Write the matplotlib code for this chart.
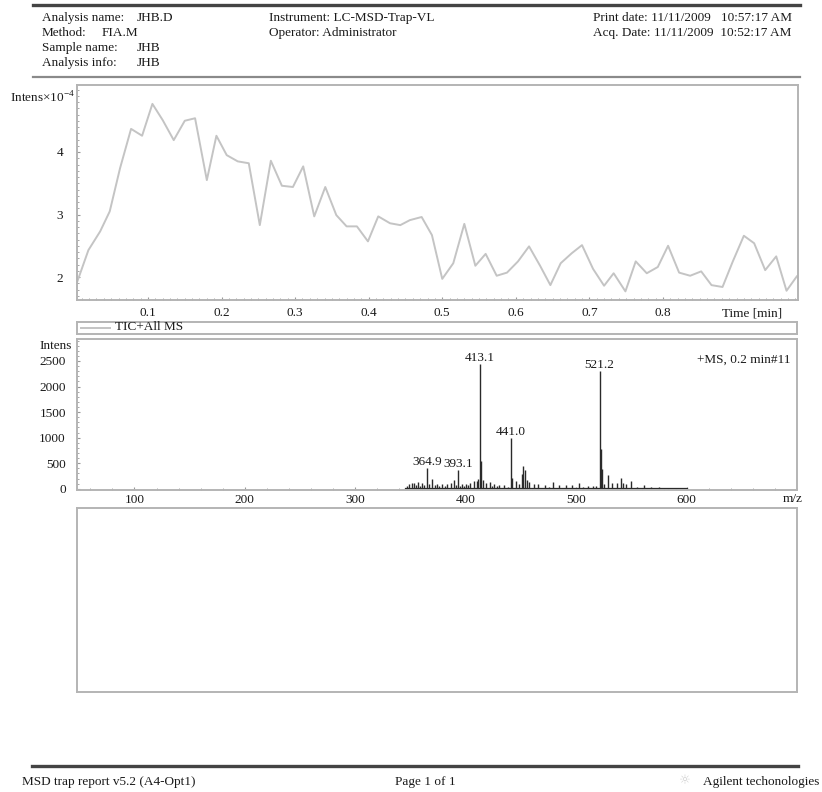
import numpy as np
import matplotlib
matplotlib.use("Agg")
import matplotlib.pyplot as plt
from matplotlib.ticker import MultipleLocator
from matplotlib.lines import Line2D

plt.rcParams['font.family'] = ['Liberation Serif', 'DejaVu Sans']
plt.rcParams['mathtext.fontset'] = 'custom'
plt.rcParams['mathtext.rm'] = 'Liberation Serif'

# TIC trace: time [min] vs intensity (x10^4)
tic_time = [0.004, 0.019, 0.035, 0.048, 0.062, 0.077, 0.092, 0.106, 0.120, 0.135,
            0.150, 0.164, 0.180, 0.193, 0.207, 0.222, 0.237, 0.252, 0.267, 0.282,
            0.297, 0.311, 0.326, 0.341, 0.356, 0.370, 0.384, 0.399, 0.413, 0.429,
            0.443, 0.456, 0.472, 0.486, 0.500, 0.515, 0.530, 0.545, 0.559, 0.574,
            0.588, 0.603, 0.618, 0.633, 0.647, 0.661, 0.676, 0.690, 0.705, 0.720,
            0.733, 0.749, 0.763, 0.778, 0.793, 0.807, 0.822, 0.837, 0.852, 0.866,
            0.881, 0.895, 0.910, 0.924, 0.939, 0.954, 0.968, 0.982]
tic_int = [1.93, 2.43, 2.73, 3.05, 3.74, 4.37, 4.26, 4.77, 4.51, 4.19,
           4.50, 4.54, 3.55, 4.26, 3.95, 3.85, 3.82, 2.83, 3.86, 3.46,
           3.44, 3.77, 2.97, 3.44, 2.99, 2.81, 2.81, 2.57, 2.97, 2.86,
           2.83, 2.91, 2.96, 2.67, 1.97, 2.22, 2.85, 2.18, 2.37, 2.02,
           2.07, 2.25, 2.49, 2.18, 1.87, 2.22, 2.38, 2.51, 2.13, 1.86,
           2.06, 1.77, 2.25, 2.06, 2.16, 2.50, 2.07, 2.02, 2.09, 1.87,
           1.84, 2.25, 2.66, 2.54, 2.11, 2.33, 1.78, 2.01]
tic_xticks = [0.1, 0.2, 0.3, 0.4, 0.5, 0.6, 0.7, 0.8]
tic_yticks = [2, 3, 4]

# MS spectrum (+MS, 0.2 min #11): m/z sticks and intensities
ms_mz = [347, 349, 351, 353, 355, 357, 359, 360.6, 362, 364.9, 367, 369.7, 372, 374.3,
         376, 378.8, 381, 383.4, 386.4, 389.4, 391, 393.1, 395, 396.8, 398.5, 400.5,
         402, 404.3, 407.2, 410.1, 411.5, 413.1, 414.1, 415.9, 418.8, 421.7, 424, 426,
         428, 430.4, 434.7, 438, 441.0, 442, 445.7, 448, 451.4, 452.3, 453.7, 455.2,
         457.2, 461.6, 465.9, 471.7, 475, 479, 484.8, 490.6, 496.4, 502.3, 506, 510.4,
         514.9, 518, 521.2, 522.2, 523.2, 525, 529.3, 532.9, 537.4, 540.3, 542.4,
         545, 549.4, 555, 561.5, 568, 575, 583, 590]
ms_int = [60, 90, 120, 110, 70, 130, 60, 105, 80, 410, 90, 195, 70, 85,
          50, 95, 60, 85, 117, 180, 70, 365, 60, 95, 50, 85,
          70, 117, 150, 150, 190, 2450, 540, 180, 117, 130, 60, 85,
          50, 65, 65, 40, 1000, 215, 150, 90, 280, 443, 364, 180,
          130, 85, 85, 65, 40, 130, 65, 65, 65, 117, 40, 50,
          50, 60, 2300, 770, 380, 90, 275, 117, 117, 210, 110,
          92, 143, 40, 78, 30, 25, 20, 15]
ms_labels = ["364.9", "393.1", "413.1", "441.0", "521.2"]
ms_label_mz = [364.9, 393.1, 413.1, 441.0, 521.2]
ms_label_int = [410, 365, 2450, 1000, 2300]
ms_xticks = [100, 200, 300, 400, 500, 600]
ms_yticks = [0, 500, 1000, 1500, 2000, 2500]

W, H = 822, 792
fig = plt.figure(figsize=(W / 100, H / 100), dpi=100)

spine_c = '#b4b4b4'
txt_c = '#1a1a1a'
fs = 9.5


def fx(px):
    return px / W


def fy(py):
    return 1 - py / H


def style_axes(ax):
    for s in ax.spines.values():
        s.set_color(spine_c)
        s.set_linewidth(1.4)
    ax.tick_params(which='both', direction='in', color='#999999', labelsize=fs,
                   labelcolor=txt_c)
    ax.tick_params(which='major', length=2)
    ax.tick_params(which='minor', length=1.5)
    ax.tick_params(top=False, right=False)


# header
fig.add_artist(Line2D([fx(33), fx(800)], [fy(5), fy(5)], color='#444444', lw=2.4))
fig.add_artist(Line2D([fx(33), fx(800)], [fy(77), fy(77)], color='#8a8a8a', lw=1.6))
hdr_rows = [18, 33, 48, 63]
fig.text(fx(42), fy(hdr_rows[0]), "Analysis name:", fontsize=fs, va='center', color=txt_c)
fig.text(fx(137), fy(hdr_rows[0]), "JHB.D", fontsize=fs, va='center', color=txt_c)
fig.text(fx(42), fy(hdr_rows[1]), "Method:", fontsize=fs, va='center', color=txt_c)
fig.text(fx(102), fy(hdr_rows[1]), "FIA.M", fontsize=fs, va='center', color=txt_c)
fig.text(fx(42), fy(hdr_rows[2]), "Sample name:", fontsize=fs, va='center', color=txt_c)
fig.text(fx(137), fy(hdr_rows[2]), "JHB", fontsize=fs, va='center', color=txt_c)
fig.text(fx(42), fy(hdr_rows[3]), "Analysis info:", fontsize=fs, va='center', color=txt_c)
fig.text(fx(137), fy(hdr_rows[3]), "JHB", fontsize=fs, va='center', color=txt_c)
fig.text(fx(269), fy(hdr_rows[0]), "Instrument: LC-MSD-Trap-VL", fontsize=fs, va='center', color=txt_c)
fig.text(fx(269), fy(hdr_rows[1]), "Operator: Administrator", fontsize=fs, va='center', color=txt_c)
fig.text(fx(593), fy(hdr_rows[0]), "Print date: 11/11/2009   10:57:17 AM", fontsize=fs, va='center', color=txt_c)
fig.text(fx(593), fy(hdr_rows[1]), "Acq. Date: 11/11/2009  10:52:17 AM", fontsize=fs, va='center', color=txt_c)

# TIC chromatogram
ax1 = fig.add_axes([fx(77), fy(300), fx(798) - fx(77), fy(85) - fy(300)])
ax1.plot(tic_time, tic_int, color='#c4c4c4', lw=1.4)
ax1.set_xlim(0.0035, 0.9836)
ax1.set_ylim(1.632, 5.072)
ax1.set_xticks(tic_xticks)
ax1.set_xticklabels([f"{v:.1f}" for v in tic_xticks])
ax1.set_yticks(tic_yticks)
ax1.xaxis.set_minor_locator(MultipleLocator(0.01))
ax1.yaxis.set_minor_locator(MultipleLocator(0.1))
style_axes(ax1)
ax1.tick_params(axis='x', pad=5)
ax1.tick_params(axis='y', pad=10)
fig.text(fx(75), fy(98), "Intens\u00d710$^{-4}$", fontsize=fs, ha='right', va='center', color=txt_c)
fig.text(fx(782), fy(313), "Time [min]", fontsize=fs, ha='right', va='center', color=txt_c)

# legend strip
axl = fig.add_axes([fx(77), fy(334), fx(797) - fx(77), fy(321.7) - fy(334)])
axl.set_xticks([])
axl.set_yticks([])
for s in axl.spines.values():
    s.set_color(spine_c)
    s.set_linewidth(1.4)
fig.add_artist(Line2D([fx(81), fx(110)], [fy(327.5), fy(327.5)], color='#c4c4c4', lw=1.4))
fig.text(fx(115), fy(327.5), "TIC+All MS", fontsize=fs, va='center', color=txt_c)

# mass spectrum
ax2 = fig.add_axes([fx(77), fy(490), fx(797) - fx(77), fy(339) - fy(490)])
ax2.vlines(ms_mz, 0, ms_int, color='#2a2a2a', lw=1.0)
ax2.plot([345, 600], [8, 8], color='#2a2a2a', lw=0.9)
for lab, m, v in zip(ms_labels, ms_label_mz, ms_label_int):
    ax2.annotate(lab, (m, v), xytext=(0, 0), textcoords='offset points',
                 ha='center', va='bottom', fontsize=fs, color=txt_c)
ax2.set_xlim(48, 700)
ax2.set_ylim(-25, 2930)
ax2.set_xticks(ms_xticks)
ax2.set_yticks(ms_yticks)
ax2.xaxis.set_minor_locator(MultipleLocator(20))
ax2.yaxis.set_minor_locator(MultipleLocator(100))
style_axes(ax2)
ax2.tick_params(axis='x', pad=3)
ax2.tick_params(axis='y', pad=8)
fig.text(fx(72), fy(346), "Intens", fontsize=fs, ha='right', va='center', color=txt_c)
fig.text(fx(790), fy(360), "+MS, 0.2 min#11", fontsize=fs, ha='right', va='center', color=txt_c)
fig.text(fx(793), fy(499), "m/z", fontsize=fs, ha='center', va='center', color=txt_c)

# empty panel
ax3 = fig.add_axes([fx(77), fy(691.7), fx(797) - fx(77), fy(508.3) - fy(691.7)])
ax3.set_xticks([])
ax3.set_yticks([])
for s in ax3.spines.values():
    s.set_color(spine_c)
    s.set_linewidth(1.4)

# footer
fig.add_artist(Line2D([fx(32), fx(798)], [fy(766), fy(766)], color='#444444', lw=2.4))
fig.text(fx(22), fy(782), "MSD trap report v5.2 (A4-Opt1)", fontsize=fs, va='center', color=txt_c)
fig.text(fx(395), fy(782), "Page 1 of 1", fontsize=fs, va='center', color=txt_c)
fig.text(fx(685), fy(781), "\u263c", fontsize=fs, ha='center', va='center', color='#d0d0d0',
         family=['DejaVu Sans'])
fig.text(fx(703), fy(782), "Agilent techonologies", fontsize=fs, va='center', color=txt_c)

fig.savefig("out.png", dpi=100)
